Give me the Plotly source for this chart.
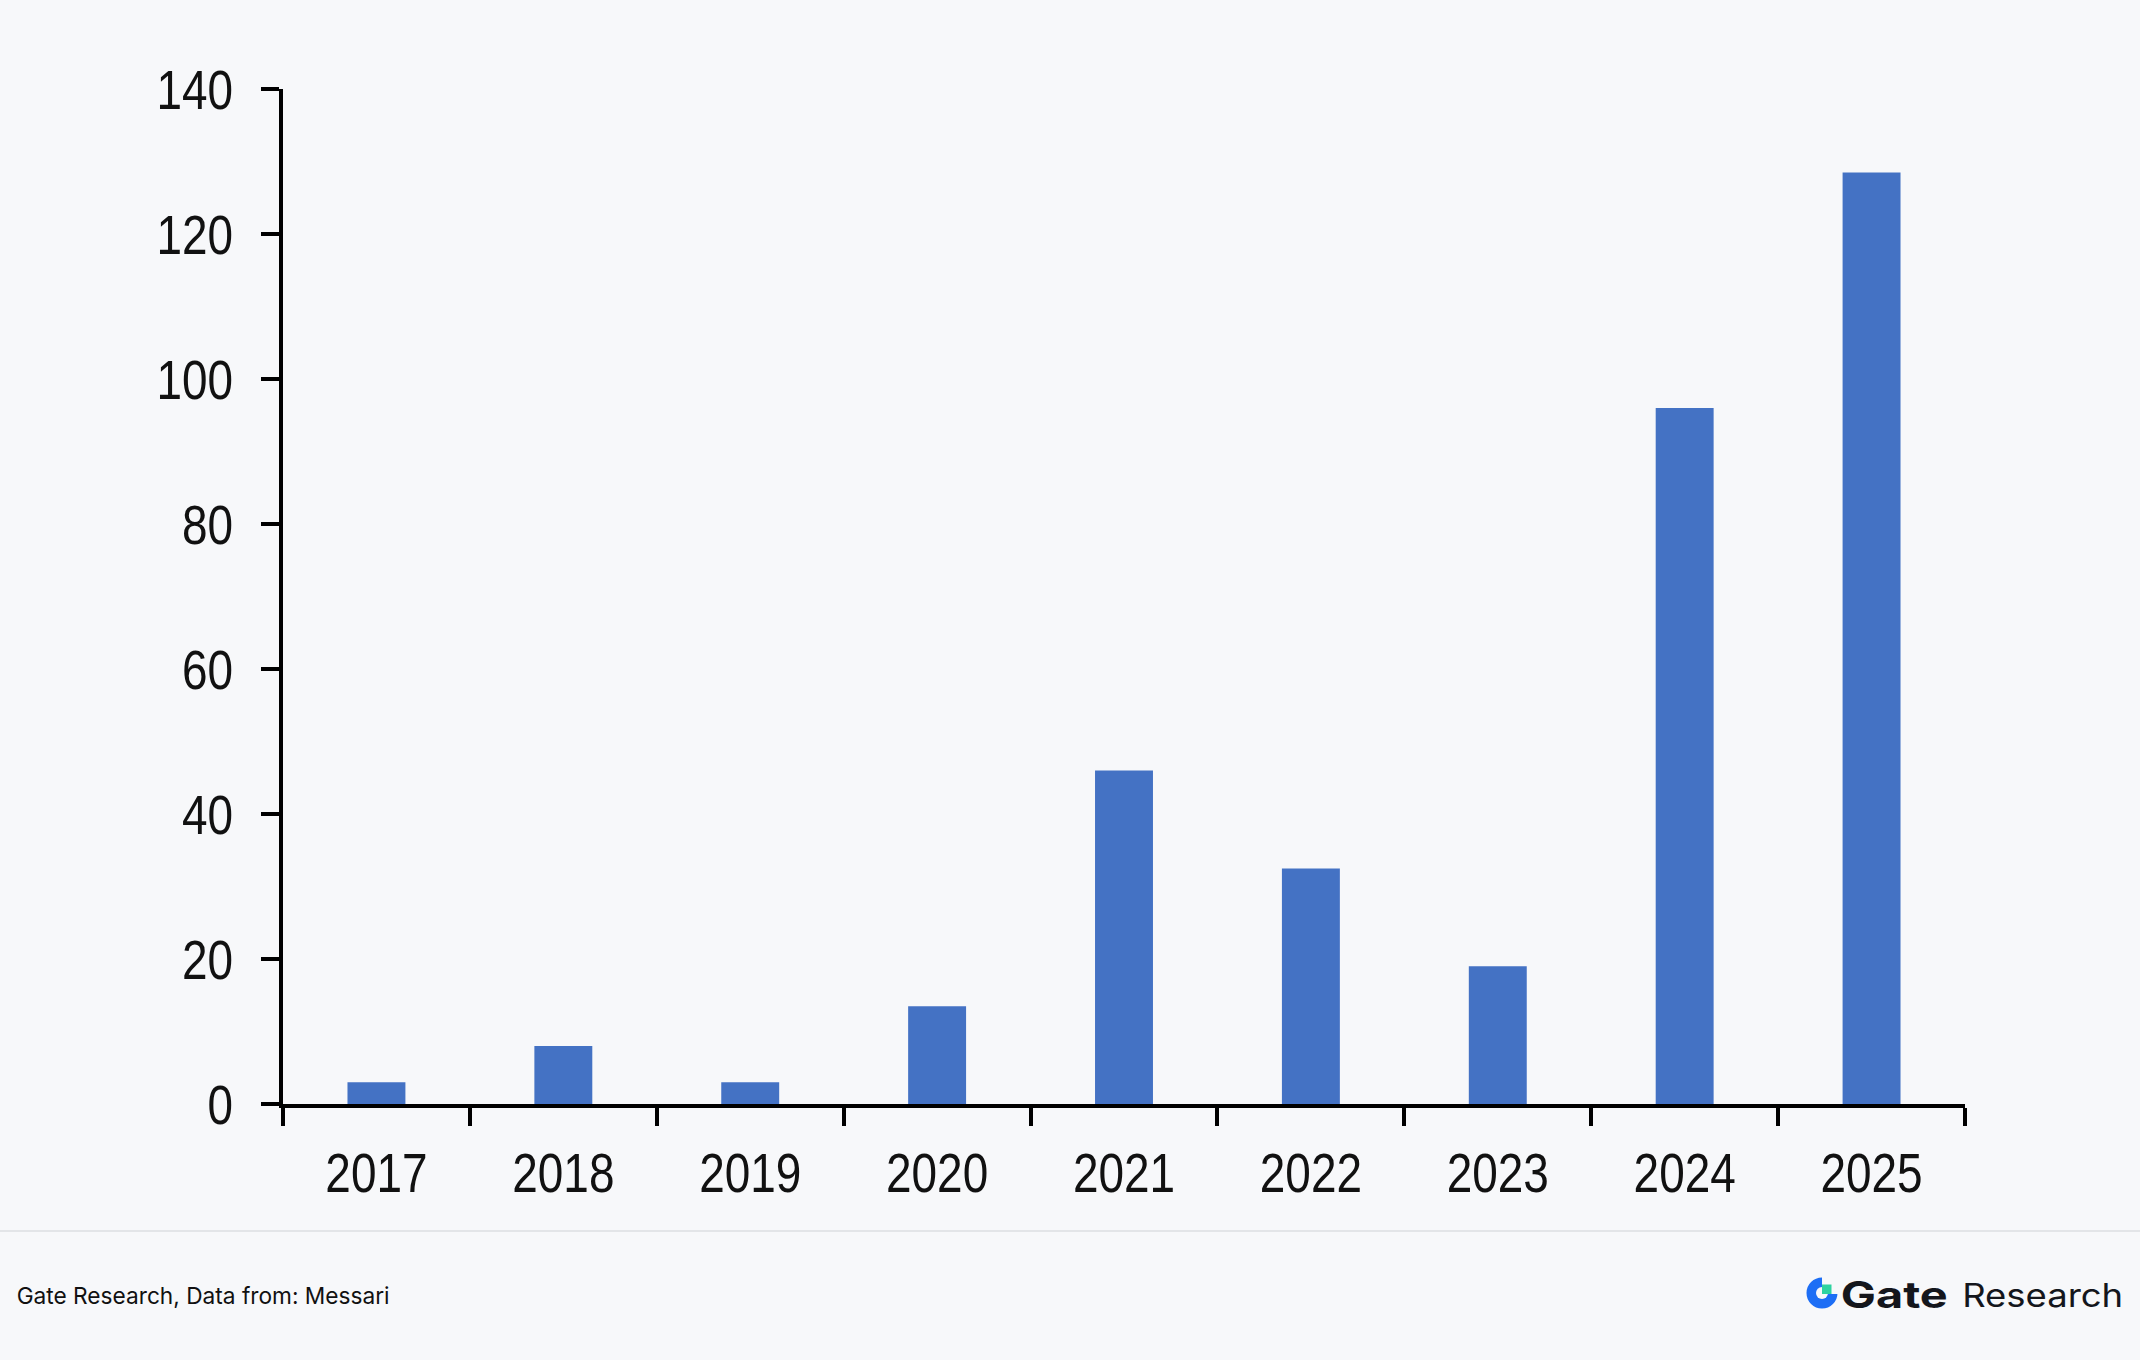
import plotly.graph_objects as go

years = ["2017", "2018", "2019", "2020", "2021", "2022", "2023", "2024", "2025"]
values = [3, 8, 3, 13.5, 46, 32.5, 19, 96, 128.5]
y_ticks = [0, 20, 40, 60, 80, 100, 120, 140]

W, H = 2140, 1360
L, R, T, B = 283, 1965, 89, 1104  # plot area in pixels
BG = "#f7f8fa"

def px(x):
    return (x - L) / (R - L)

def py(y):
    return (B - y) / (B - T)

fig = go.Figure(go.Bar(
    x=years, y=values,
    marker=dict(color="#4472c4", line=dict(width=0)),
    width=0.31,
))

tick_font = dict(family="Liberation Sans, Arial", size=56, color="#111111")

fig.update_layout(
    width=W, height=H,
    paper_bgcolor=BG, plot_bgcolor=BG,
    margin=dict(l=L, r=W - R, t=T, b=H - B, pad=0),
    showlegend=False,
)
fig.update_xaxes(
    type="category", range=[-0.5, 8.5],
    showline=True, linecolor="#000000", linewidth=3.5,
    ticks="outside", tickson="boundaries", ticklen=18, tickwidth=3.5, tickcolor="#000000",
    tickfont=tick_font, ticklabelstandoff=17,
    showgrid=False, zeroline=False,
)
fig.update_yaxes(
    range=[0, 140], tickvals=y_ticks,
    showline=True, linecolor="#000000", linewidth=3.5,
    ticks="outside", ticklen=18, tickwidth=3.5, tickcolor="#000000",
    tickfont=tick_font, ticklabelstandoff=17,
    showgrid=False, zeroline=False,
)

shapes = []
# footer separator
shapes.append(dict(type="line", xref="paper", yref="paper",
                   x0=px(0), x1=px(W), y0=py(1231), y1=py(1231),
                   line=dict(color="#e3e5e8", width=2)))
# logo icon: blue disc with hole and missing top-right quadrant, green square
cx, cy, r_out, r_in = 1822, 1293, 15.5, 6
shapes.append(dict(type="circle", xref="paper", yref="paper",
                   x0=px(cx - r_out), x1=px(cx + r_out), y0=py(cy + r_out), y1=py(cy - r_out),
                   fillcolor="#1d6ef5", line=dict(width=0)))
shapes.append(dict(type="circle", xref="paper", yref="paper",
                   x0=px(cx - r_in), x1=px(cx + r_in), y0=py(cy + r_in), y1=py(cy - r_in),
                   fillcolor=BG, line=dict(width=0)))
shapes.append(dict(type="rect", xref="paper", yref="paper",
                   x0=px(cx), x1=px(cx + r_out + 1), y0=py(cy + 1), y1=py(cy - r_out - 1),
                   fillcolor=BG, line=dict(width=0)))
shapes.append(dict(type="rect", xref="paper", yref="paper",
                   x0=px(cx), x1=px(cx + 9.5), y0=py(cy + 1), y1=py(cy - 8.5),
                   fillcolor="#2ed3a0", line=dict(width=0)))

annotations = [
    dict(text="Gate Research, Data from: Messari", xref="paper", yref="paper",
         x=px(202.5), y=py(1296), xanchor="center", yanchor="middle", showarrow=False,
         font=dict(family="Inter, Noto Sans, sans-serif", size=23, color="#111111")),
    dict(text="<b>Gate</b>", xref="paper", yref="paper",
         x=px(1893.5), y=py(1294), xanchor="center", yanchor="middle", showarrow=False,
         font=dict(family="Inter, Noto Sans, sans-serif", size=37, color="#14161c")),
    dict(text="Research", xref="paper", yref="paper",
         x=px(2042.5), y=py(1295), xanchor="center", yanchor="middle", showarrow=False,
         font=dict(family="Inter, Noto Sans, sans-serif", size=32, color="#14161c")),
]

fig.update_layout(shapes=shapes, annotations=annotations)

post = """
document.body.style.margin='0';
document.documentElement.style.margin='0';
var gd=document.getElementById('{plot_id}');
gd.querySelectorAll('.xtick text, .ytick text').forEach(function(t){
  var w=t.getComputedTextLength();
  t.setAttribute('textLength',(w*0.82).toFixed(1));
  t.setAttribute('lengthAdjust','spacingAndGlyphs');
});
var targets={'Gate':107,'Research':161,'Gate Research, Data from: Messari':373};
gd.querySelectorAll('.annotation-text').forEach(function(t){
  var s=t.textContent;
  if(targets[s]){t.setAttribute('textLength',targets[s]);t.setAttribute('lengthAdjust','spacingAndGlyphs');}
});
"""

fig.write_html("out.html", post_script=post, config={"displayModeBar": False})
